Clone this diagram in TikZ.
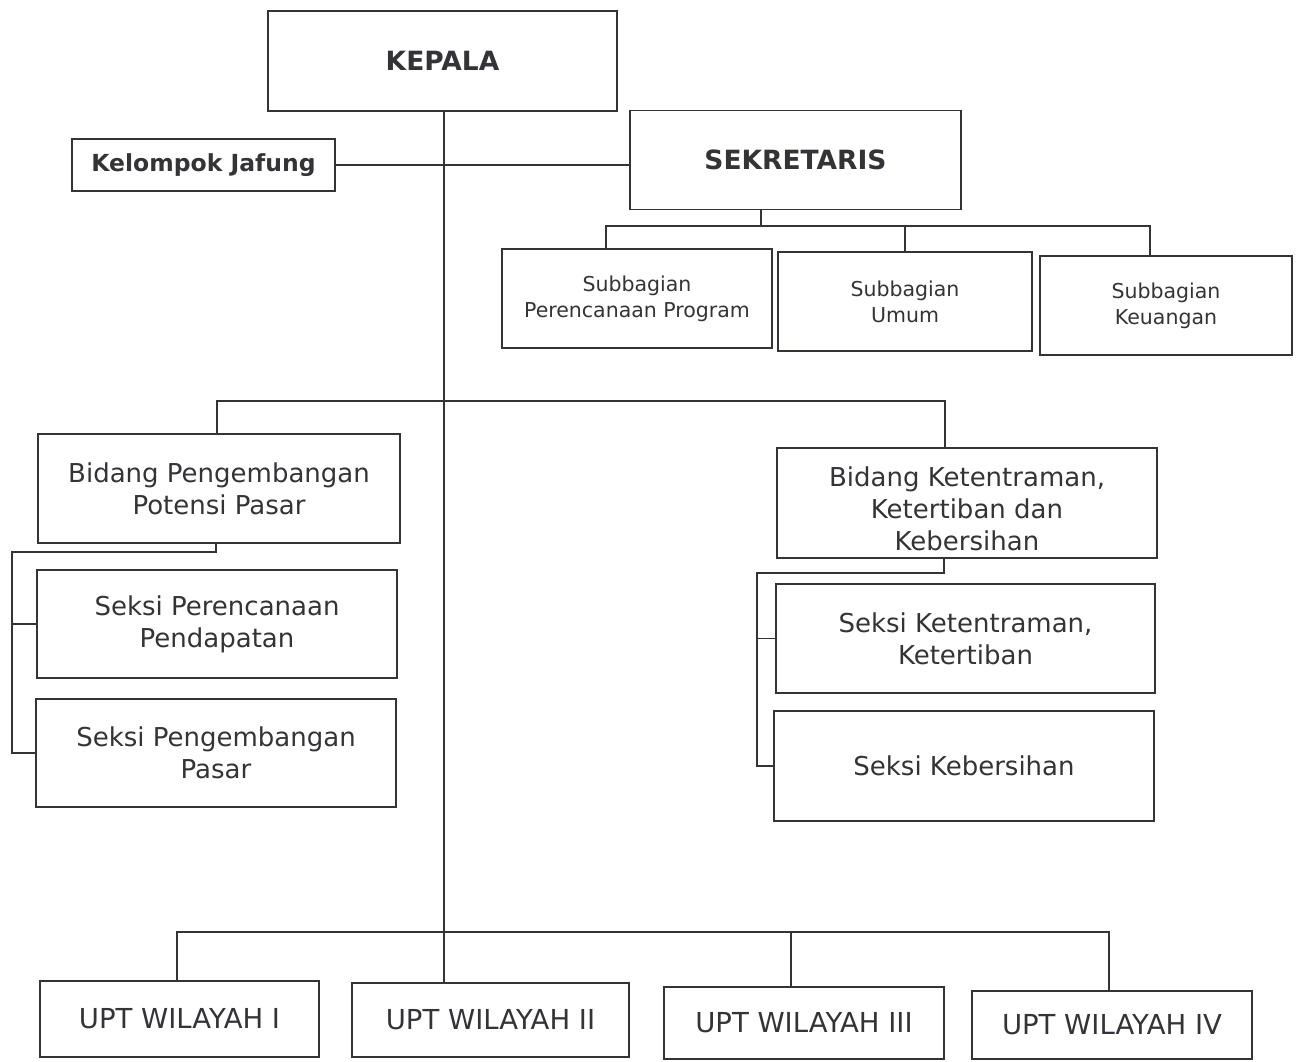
\documentclass[tikz,border=0pt]{standalone}
\usepackage{fontspec}
\setmainfont{DejaVu Sans}
\definecolor{ink}{HTML}{333338}
\begin{document}
\begin{tikzpicture}[x=1pt,y=-1pt,
  box/.style={draw=ink,line width=1.6pt,text=ink,align=center,inner sep=0pt,anchor=center},
  conn/.style={draw=ink,line width=1.6pt},
  hd/.style={font=\fontsize{26.5}{31}\selectfont\bfseries},
  jf/.style={font=\fontsize{23.5}{28}\selectfont\bfseries},
  sm/.style={font=\fontsize{20.5}{26}\selectfont},
  md/.style={font=\fontsize{26}{32}\selectfont},
  up/.style={font=\fontsize{27.5}{32}\selectfont}]
\useasboundingbox (0,0) rectangle (1299,1061);
% boxes
\node[box,hd,minimum width=349pt,minimum height=100pt] (kepala) at (442.5,61) {KEPALA};
\node[box,jf,minimum width=263pt,minimum height=52pt] (jafung) at (203.5,165) {Kelompok Jafung};
\node[box,hd,minimum width=331pt,minimum height=99pt] (sek) at (795.5,160) {SEKRETARIS};
\node[box,sm,minimum width=270pt,minimum height=99pt] (sub1) at (637,298.5) {Subbagian\\Perencanaan Program};
\node[box,sm,minimum width=254pt,minimum height=99pt] (sub2) at (905,301.5) {Subbagian\\Umum};
\node[box,sm,minimum width=252pt,minimum height=99pt] (sub3) at (1166,305.5) {Subbagian\\Keuangan};
\node[box,md,minimum width=362pt,minimum height=109pt] (bid1) at (219,488.5) {Bidang Pengembangan\\Potensi Pasar};
\node[box,md,minimum width=380pt,minimum height=110pt] (bid2) at (967,503) {\raisebox{-9pt}[\height][\depth]{\begin{tabular}{@{}c@{}}Bidang Ketentraman,\\Ketertiban dan\\Kebersihan\end{tabular}}};
\node[box,md,minimum width=360pt,minimum height=108pt] (sk1) at (217,624) {Seksi Perencanaan\\Pendapatan};
\node[box,md,minimum width=360pt,minimum height=108pt] (sk2) at (216,753) {Seksi Pengembangan\\Pasar};
\node[box,md,minimum width=379pt,minimum height=109pt] (sk3) at (965.5,638.5) {Seksi Ketentraman,\\Ketertiban};
\node[box,md,minimum width=380pt,minimum height=110pt] (sk4) at (964,766) {Seksi Kebersihan};
\node[box,up,minimum width=279pt,minimum height=76pt] (upt1) at (179.5,1019) {UPT WILAYAH I};
\node[box,up,minimum width=277pt,minimum height=74pt] (upt2) at (490.5,1020) {UPT WILAYAH II};
\node[box,up,minimum width=280pt,minimum height=72pt] (upt3) at (804,1023) {UPT WILAYAH III};
\node[box,up,minimum width=280pt,minimum height=68pt] (upt4) at (1112,1025) {UPT WILAYAH IV};
% bus coordinates
\coordinate (mx) at (444,0);
\coordinate (sbM) at (761,226);
\coordinate (sbL) at (606,226);
\coordinate (sbR) at (1150,226);
\coordinate (mbL) at (217,401);
\coordinate (mbR) at (945,401);
\coordinate (lb1) at (216,552);
\coordinate (lbx) at (12,552);
\coordinate (rb1) at (944,573);
\coordinate (rbx) at (757,573);
\coordinate (ubL) at (177,932);
\coordinate (ub3) at (791,932);
\coordinate (ubR) at (1109,932);
% connectors
\draw[conn] (mx |- kepala.south) -- (mx |- upt2.north);
\draw[conn] (jafung.east) -- (jafung.east -| sek.west);
\draw[conn] (sbM |- sek.south) -- (sbM);
\draw[conn] (sbL |- sub1.north) -- (sbL) -- (sbR) -- (sbR |- sub3.north);
\draw[conn] (sub2.north) -- (sub2.north |- sbL);
\draw[conn] (mbL |- bid1.north) -- (mbL) -- (mbR) -- (mbR |- bid2.north);
\draw[conn] (lb1 |- bid1.south) -- (lb1) -- (lbx) |- (sk2.west);
\draw[conn] (lbx |- sk1.west) -- (sk1.west);
\draw[conn] (rb1 |- bid2.south) -- (rb1) -- (rbx) |- (sk4.west);
\draw[conn] (rbx |- sk3.west) -- (sk3.west);
\draw[conn] (ubL |- upt1.north) -- (ubL) -- (ubR) -- (ubR |- upt4.north);
\draw[conn] (ub3) -- (ub3 |- upt3.north);
\end{tikzpicture}
\end{document}
